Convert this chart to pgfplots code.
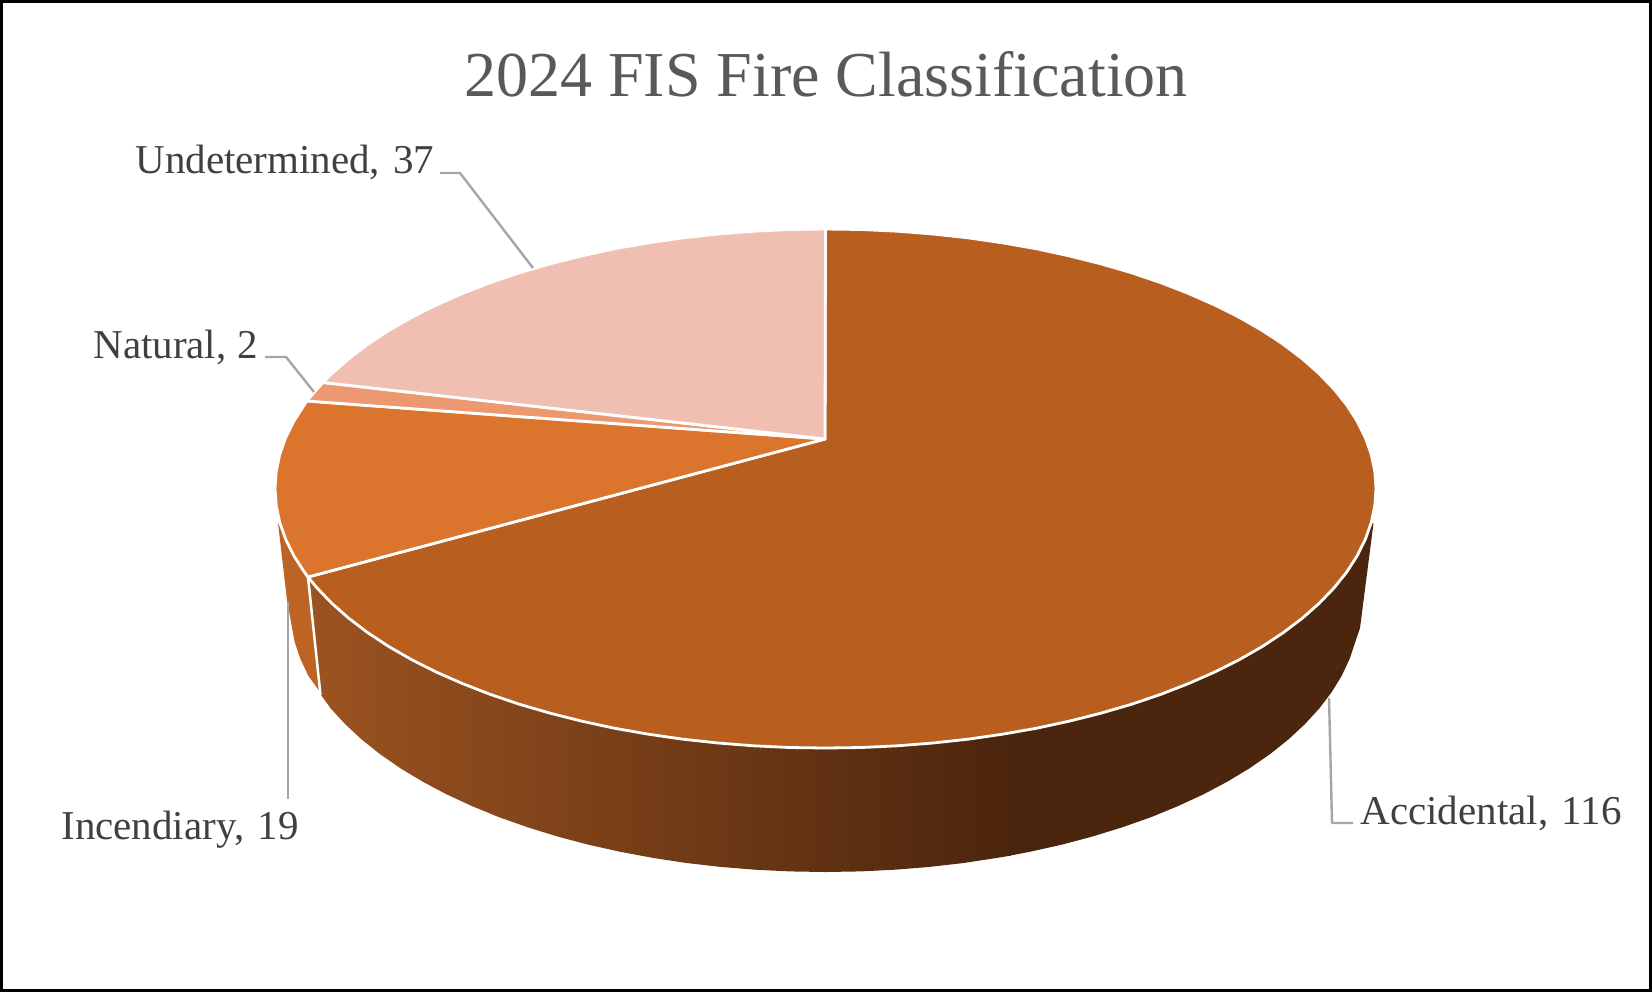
\documentclass[border=0pt]{standalone}
\usepackage{fontspec}
\setmainfont{Liberation Serif}
\usepackage{pgfplots}
\pgfplotsset{compat=1.18}

\definecolor{accid}{HTML}{B85F20}
\definecolor{incen}{HTML}{DB742C}
\definecolor{natur}{HTML}{EC9870}
\definecolor{undet}{HTML}{F0BFB1}
\definecolor{wallL}{HTML}{9C5320}
\definecolor{wallD}{HTML}{4B250D}
\definecolor{wallI}{HTML}{BD6425}
\definecolor{leader}{HTML}{A6A6A6}
\definecolor{lab}{HTML}{404040}
\definecolor{ttl}{HTML}{595959}

\tikzset{
	slice/.style={draw=white, line width=1.4pt},
	lead/.style={draw=leader, line width=1.2pt},
	lbl/.style={anchor=base west, inner sep=0pt, text=lab, font=\fontsize{20.5}{24}\selectfont},
}

\begin{document}
\begin{tikzpicture}
\begin{axis}[
	scale only axis,
	width=826pt,
	height=496pt,
	xmin=0, xmax=1652,
	ymin=0, ymax=992,
	y dir=reverse,
	hide axis,
	clip=false,
	every axis plot/.append style={no marks, line join=round},
]
	% side wall, gradient part
	\addplot[draw=none, left color=wallL, right color=wallD] coordinates {
		(1011,700) (1011,855.6) (996.9,857.9) (963.5,863) (929.4,866.9) (894.8,869.7) (860,871.4)
		(825,872) (790,871.4) (755.2,869.7) (720.6,866.9) (686.5,863) (653.1,857.9) (620.3,851.8)
		(588.4,844.7) (557.5,836.5) (527.8,827.3) (499.3,817.3) (472.3,806.2) (446.7,794.4)
		(422.8,781.7) (400.5,768.3) (380.1,754.2) (361.7,739.5) (345.2,724.2) (330.7,708.4)
		(321,695) (308,577)
	} -- cycle;
	% side wall, dark part
	\addplot[draw=none, fill=wallD] coordinates {
		(1373.5,523) (1360,628) (1355.4,641.6) (1349.7,658.7) (1341.8,675.6) (1331.6,692.2)
		(1319.3,708.4) (1304.8,724.2) (1288.3,739.5) (1269.9,754.2) (1249.5,768.3) (1227.2,781.7)
		(1203.3,794.4) (1177.7,806.2) (1150.7,817.3) (1122.2,827.3) (1092.5,836.5) (1061.6,844.7)
		(1029.7,851.8) (1010,855.6) (1010,700)
	} -- cycle;
	% side wall, Incendiary
	\addplot[draw=none, fill=wallI] coordinates {
		(278,523) (287,600) (294.6,641.6) (300.3,658.7) (308.2,675.6) (320,692) (308,577)
	} -- cycle;
	\addplot[draw=white, line width=1.25pt] coordinates {(308,577) (320.5,695)};

	% top face: Accidental, 116
	\addplot[slice, fill=accid] coordinates {
		(825,439) (825.5,229) (861.5,229.5) (897.3,231.2) (932.9,234) (968,237.8) (1002.4,242.8)
		(1036.2,248.7) (1069,255.8) (1100.8,263.8) (1131.4,272.7) (1160.6,282.6) (1188.4,293.4)
		(1214.8,305) (1239.4,317.4) (1262.3,330.5) (1283.2,344.3) (1302.2,358.7) (1319.2,373.7)
		(1334.1,389.2) (1346.8,405.1) (1357.2,421.3) (1365.4,437.9) (1371.3,454.6) (1374.8,471.5)
		(1376,488.5) (1374.8,505.5) (1371.3,522.4) (1365.4,539.1) (1357.2,555.7) (1346.8,571.9)
		(1334.1,587.8) (1319.2,603.3) (1302.2,618.3) (1283.2,632.7) (1262.3,646.5) (1239.4,659.6)
		(1214.8,672) (1188.4,683.6) (1160.6,694.4) (1131.4,704.3) (1100.8,713.2) (1069,721.2)
		(1036.2,728.3) (1002.4,734.2) (968,739.2) (932.9,743) (897.3,745.8) (861.5,747.5)
		(825.5,748) (789.5,747.5) (753.7,745.8) (718.1,743) (683,739.2) (648.6,734.2)
		(614.8,728.3) (582,721.2) (550.2,713.2) (519.6,704.3) (490.4,694.4) (462.6,683.6)
		(436.2,672) (411.6,659.6) (388.7,646.5) (367.8,632.7) (348.8,618.3) (331.8,603.3)
		(316.9,587.8) (308,577)
	} -- cycle;
	% Incendiary, 19
	\addplot[slice, fill=incen] coordinates {
		(825,439) (308,577) (304.2,571.9) (293.8,555.7) (285.6,539.1) (279.7,522.4) (276.2,505.5)
		(275,488.5) (276.2,471.5) (279.7,454.6) (285.6,437.9) (293.8,421.3) (304.2,405.1)
		(306.7,401)
	} -- cycle;
	% Natural, 2
	\addplot[slice, fill=natur] coordinates {
		(825,439) (306.7,401) (316.9,389.2) (323,382.5)
	} -- cycle;
	% Undetermined, 37
	\addplot[slice, fill=undet] coordinates {
		(825,439) (323,382.5) (331.8,373.7) (348.8,358.7) (367.8,344.3) (388.7,330.5) (411.6,317.4)
		(436.2,305) (462.6,293.4) (490.4,282.6) (519.6,272.7) (550.2,263.8) (582,255.8)
		(614.8,248.7) (648.6,242.8) (683,237.8) (718.1,234) (753.7,231.2) (789.5,229.5) (825.5,229)
	} -- cycle;

	% leader lines
	\addplot[lead] coordinates {(440,173) (460,173) (533,268)};
	\addplot[lead] coordinates {(265,357) (286,357) (314,392)};
	\addplot[lead] coordinates {(288,602) (288,799)};
	\addplot[lead] coordinates {(1329,698) (1332,823) (1353,823)};

	\node[lbl] at (axis cs:135,173) {Undetermined,\hspace{1.5pt} 37};
	\node[lbl] at (axis cs:93,358) {Natural,\hspace{0.5pt} 2};
	\node[lbl] at (axis cs:61,839) {Incendiary,\hspace{1.5pt} 19};
	\node[lbl] at (axis cs:1360,824) {Accidental,\hspace{1.5pt} 116};
	\node[anchor=base, inner sep=0pt, text=ttl, font=\fontsize{32}{38}\selectfont] at (axis cs:826,96) {2024 FIS Fire Classification};

	% chart frame
	\addplot[draw=black, line width=1.5pt, line join=miter] coordinates {
		(1.5,1.5) (1650.5,1.5) (1650.5,990.5) (1.5,990.5)
	} -- cycle;
\end{axis}
\end{tikzpicture}
\end{document}
